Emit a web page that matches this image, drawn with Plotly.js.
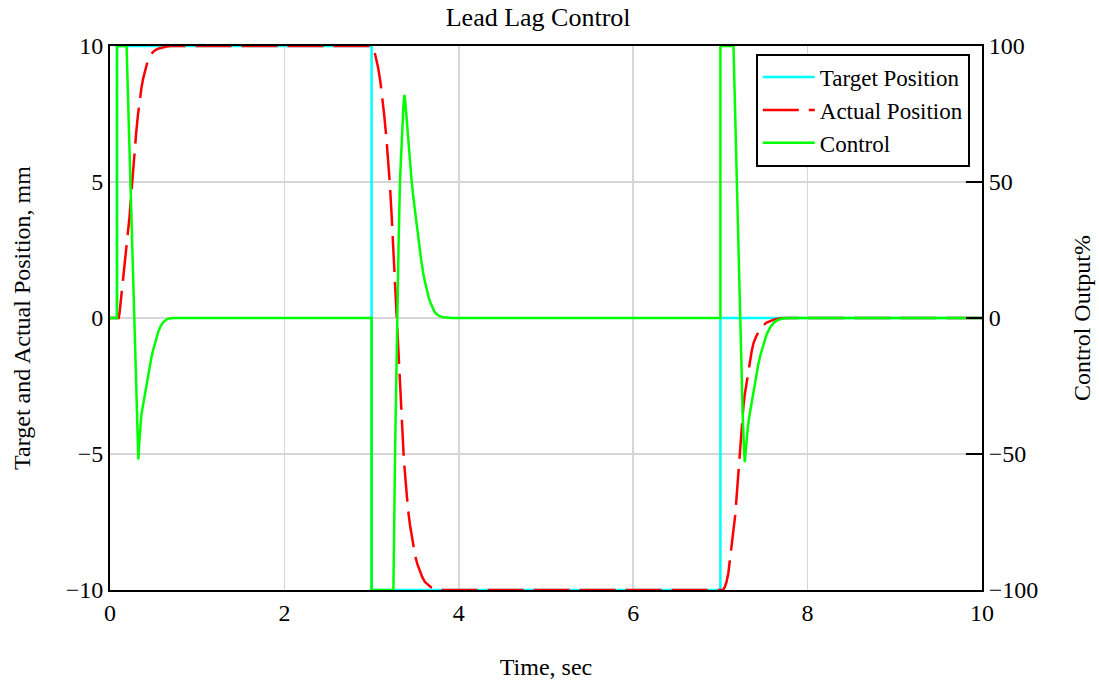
<!DOCTYPE html>
<html>
<head>
<meta charset="utf-8">
<script src="https://cdn.plot.ly/plotly-3.0.1.min.js"></script>
<style>html,body{margin:0;padding:0;background:#fff;}#chart{width:1099px;height:685px;}</style>
</head>
<body>
<div id="chart"></div>
<script>
// Target position (mm)
const targetTime = [0, 0.08, 0.08, 3.0, 3.0, 7.0, 7.0, 10];
const targetPos  = [0, 0, 10, 10, -10, -10, 0, 0];

// Actual position (mm)
const actualTime = [0, 0.1, 0.11, 0.12, 0.135, 0.15, 0.165, 0.18, 0.195, 0.21, 0.225, 0.24, 0.255, 0.27, 0.285, 0.30, 0.32, 0.34, 0.36, 0.38, 0.40, 0.42, 0.44, 0.46, 0.49, 0.52, 0.56, 0.6, 0.65, 0.7,
  3.0, 3.025, 3.05, 3.075, 3.1, 3.12, 3.145, 3.17, 3.19, 3.21, 3.23, 3.25, 3.27, 3.29, 3.305, 3.32, 3.34, 3.355, 3.37, 3.39, 3.405, 3.42, 3.44, 3.46, 3.48, 3.50, 3.525, 3.55, 3.58, 3.61, 3.645, 3.68, 3.73, 3.78,
  7.03, 7.05, 7.07, 7.09, 7.105, 7.12, 7.14, 7.155, 7.17, 7.19, 7.21, 7.23, 7.25, 7.265, 7.28, 7.295, 7.31, 7.325, 7.345, 7.36, 7.38, 7.41, 7.45, 7.49, 7.53, 7.575, 7.62, 7.68, 7.74, 10];
const actualPos  = [0, 0, 0.2, 0.5, 0.9, 1.3, 1.75, 2.2, 2.65, 3.1, 3.75, 4.4, 5.05, 5.7, 6.3, 6.8, 7.45, 8.0, 8.45, 8.8, 9.08, 9.3, 9.5, 9.65, 9.77, 9.85, 9.91, 9.95, 9.98, 10,
  10, 9.9, 9.6, 9.2, 8.7, 8.2, 7.45, 6.6, 5.8, 4.9, 3.75, 2.5, 1.25, 0, -1.1, -2.2, -3.5, -4.4, -5.2, -6.0, -6.6, -7.1, -7.6, -8.0, -8.4, -8.75, -9.05, -9.3, -9.52, -9.7, -9.82, -9.9, -9.96, -10,
  -10, -9.9, -9.7, -9.4, -9.0, -8.6, -8.2, -7.75, -7.25, -6.4, -5.5, -4.6, -3.7, -3.2, -2.8, -2.5, -2.2, -1.85, -1.5, -1.2, -0.92, -0.68, -0.44, -0.28, -0.17, -0.1, -0.05, -0.02, 0, 0];

// Control output (%)
const controlTime = [0, 0.08, 0.08, 0.19, 0.205, 0.22, 0.235, 0.25, 0.265, 0.28, 0.29, 0.30, 0.31, 0.318, 0.325, 0.333, 0.34, 0.348, 0.357, 0.368, 0.382, 0.40, 0.42, 0.44, 0.459, 0.478, 0.497, 0.525, 0.554, 0.58, 0.612, 0.65, 0.69, 0.75,
  3.0, 3.0, 3.25, 3.27, 3.29, 3.31, 3.326, 3.34, 3.355, 3.365, 3.376, 3.385, 3.40, 3.415, 3.43, 3.445, 3.46, 3.48, 3.505, 3.535, 3.57, 3.60, 3.63, 3.655, 3.68, 3.70, 3.72, 3.75, 3.78, 3.82, 3.87, 3.92,
  7.0, 7.0, 7.15, 7.175, 7.2, 7.22, 7.24, 7.255, 7.27, 7.28, 7.29, 7.30, 7.315, 7.33, 7.345, 7.365, 7.385, 7.41, 7.435, 7.46, 7.49, 7.53, 7.57, 7.61, 7.655, 7.7, 7.75, 7.8, 10];
const controlOut  = [0, 0, 100, 100, 83, 66, 50, 33, 16, 0, -12, -24, -36, -45, -52, -47, -43, -39.5, -36.5, -34, -31.5, -28, -24, -20.2, -16.7, -14, -11.5, -7.8, -5, -3, -1.5, -0.5, -0.1, 0,
  0, -100, -100, -48, 0, 28, 51, 63, 72, 78, 82, 80, 74, 67, 60, 55, 50, 44, 37, 29, 21, 15, 10.5, 7.5, 5.2, 3.6, 2.4, 1.3, 0.7, 0.25, 0.05, 0,
  0, 100, 100, 67, 33, 7, -20, -35, -48, -53, -49, -45, -40, -36.5, -33.5, -29.5, -25.5, -21, -17, -13.5, -10, -6, -3.5, -1.8, -0.8, -0.3, -0.05, 0, 0];

const xTicks = [0, 2, 4, 6, 8, 10];
const yTicks = [-10, -5, 0, 5, 10];
const y2Ticks = [-100, -50, 0, 50, 100];

const fam = 'Liberation Serif, Times New Roman, serif';
const font = {family: fam, size: 24, color: '#000'};
const titleFont = {family: fam, size: 26, color: '#000'};
const legendFont = {family: fam, size: 23, color: '#000'};

const traces = [
  {x: targetTime, y: targetPos, name: 'Target Position', type: 'scatter', mode: 'lines',
   line: {color: '#00ffff', width: 2.5}},
  {x: actualTime, y: actualPos, name: 'Actual Position', type: 'scatter', mode: 'lines',
   line: {color: '#ff0000', width: 2.5, dash: '36px,10px'}},
  {x: controlTime, y: controlOut, name: 'Control', type: 'scatter', mode: 'lines', yaxis: 'y2',
   line: {color: '#00ff00', width: 2.5}}
];

const layout = {
  width: 1099, height: 685,
  margin: {l: 110, r: 117, t: 46, b: 95},
  paper_bgcolor: '#fff', plot_bgcolor: '#fff',
  font: font,
  showlegend: true,
  title: {text: 'Lead Lag Control', font: titleFont, xref: 'paper', x: 0.491, xanchor: 'center', y: 0.975, yanchor: 'middle'},
  xaxis: {
    range: [0, 10], tickvals: xTicks, ticks: '', showgrid: true, gridcolor: '#d6d6d6', gridwidth: 1.5,
    zeroline: false, showline: true, mirror: true, linecolor: '#000', linewidth: 2,
    tickfont: font, title: {text: 'Time, sec', font: font, standoff: 33}, automargin: false
  },
  yaxis: {
    range: [-10, 10], tickvals: yTicks, ticks: '', showgrid: true, gridcolor: '#d6d6d6', gridwidth: 1.5,
    zeroline: false, showline: true, mirror: true, linecolor: '#000', linewidth: 2,
    tickfont: font, title: {text: 'Target and Actual Position, mm', font: font, standoff: 28}, automargin: false
  },
  yaxis2: {
    range: [-100, 100], tickvals: y2Ticks, overlaying: 'y', side: 'right', ticks: 'inside', ticklen: 16,
    tickwidth: 2, tickcolor: '#000', showgrid: false, zeroline: false, showline: true, linecolor: '#000', linewidth: 2,
    tickfont: font, title: {text: 'Control Output%', font: font, standoff: 36}, automargin: false
  },
  legend: {
    x: 0.986, y: 0.986, xanchor: 'right', yanchor: 'top', bgcolor: '#fff', bordercolor: '#000', borderwidth: 2,
    font: legendFont, itemwidth: 52, tracegroupgap: 0
  }
};

Plotly.newPlot('chart', traces, layout, {displayModeBar: false, staticPlot: true});
</script>
</body>
</html>
